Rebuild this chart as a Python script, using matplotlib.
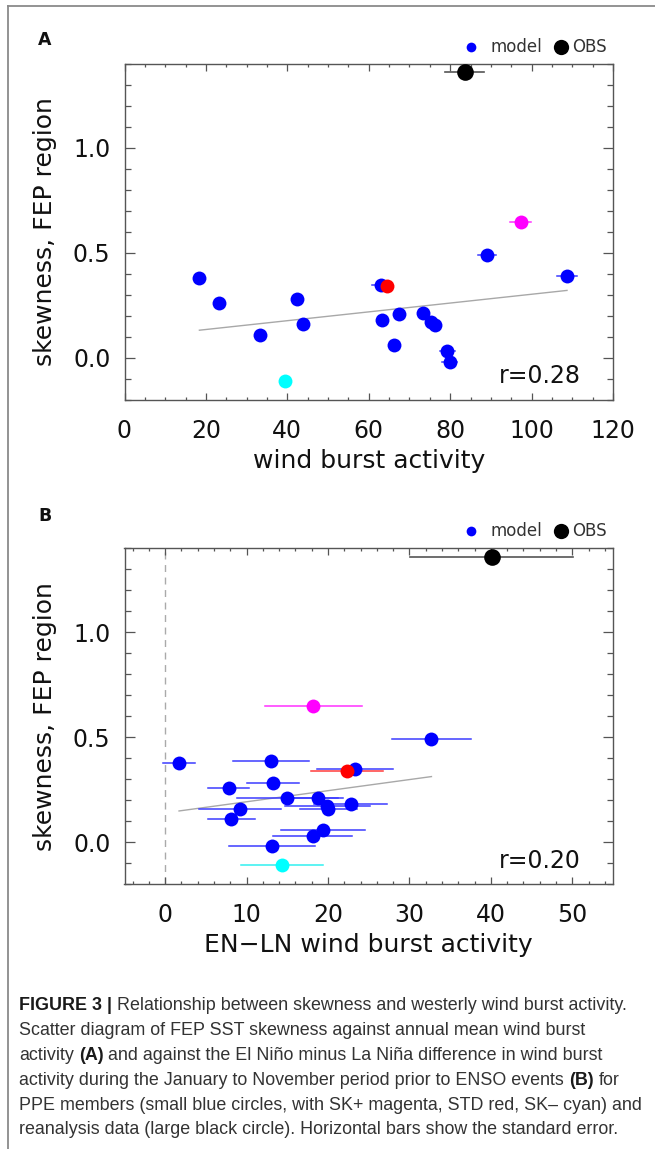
import matplotlib.pyplot as plt
import numpy as np
from matplotlib.lines import Line2D
from matplotlib.ticker import MultipleLocator

# PPE members: FEP SST skewness (shared by both panels)
skew = [0.379, 0.259, 0.110, -0.111, 0.281, 0.159, 0.349, 0.340, 0.179, 0.059,
        0.208, 0.211, 0.172, 0.157, 0.030, -0.021, 0.489, 0.649, 0.388]
member = ['PPE', 'PPE', 'PPE', 'SK-', 'PPE', 'PPE', 'PPE', 'STD', 'PPE', 'PPE',
          'PPE', 'PPE', 'PPE', 'PPE', 'PPE', 'PPE', 'PPE', 'SK+', 'PPE']

# panel A: annual mean wind burst activity
wwb_mean = [18.4, 23.1, 33.3, 39.4, 42.4, 43.8, 62.9, 64.4, 63.2, 66.1,
            67.5, 73.3, 75.4, 76.2, 79.3, 79.9, 89.1, 97.3, 108.7]
wwb_mean_se = [1.2, 1.2, 1.2, 1.2, 1.2, 1.2, 2.0, 1.2, 1.2, 1.2,
               1.2, 1.2, 1.2, 1.2, 1.8, 1.8, 2.2, 2.5, 2.5]

# panel B: El Nino minus La Nina wind burst activity
wwb_diff = [1.7, 7.8, 8.1, 14.35, 13.2, 9.2, 23.3, 22.3, 22.8, 19.4,
            15.0, 18.8, 19.9, 20.0, 18.1, 13.1, 32.7, 18.2, 13.0]
wwb_diff_se = [2.0, 2.5, 2.9, 5.0, 3.2, 5.0, 4.7, 4.4, 4.5, 5.2,
               6.2, 3.0, 5.2, 3.5, 4.8, 5.3, 4.9, 6.0, 4.7]

# reanalysis
obs_skew = 1.36
obs_mean, obs_mean_se = 83.6, 4.8
obs_diff, obs_diff_se = 40.1, 10.0

dot_col = {'PPE': '#0000ff', 'STD': '#ff0000', 'SK+': '#ff00ff', 'SK-': '#00ffff'}
bar_col = {'PPE': '#3c3cff', 'STD': '#ff3c3c', 'SK+': '#ff30ff', 'SK-': '#30f0f0'}

W, H = 655, 1149
plt.rcParams['font.family'] = ['DejaVu Sans']
fig = plt.figure(figsize=(W / 100, H / 100), dpi=100)

axA = fig.add_axes([124.5 / W, 1 - 399.7 / H, 488.5 / W, 335.7 / H])
axB = fig.add_axes([124.5 / W, 1 - 884 / H, 488.5 / W, 335.7 / H])
ax_top_gap = {'A': 24, 'B': 32}


def panel(ax, x, xerr, obs_x, obs_err, xlim, xmajor, xminor, xlabel, rtext, letter):
    y = np.array(skew)
    x = np.array(x)
    # regression line over the members
    k, b = np.polyfit(x, y, 1)
    xs = np.array([x.min(), x.max()])
    ax.plot(xs, k * xs + b, color='#a8a8a8', lw=1.0, zorder=1)

    for xi, yi, ei, m in zip(x, y, xerr, member):
        ax.plot([xi - ei, xi + ei], [yi, yi], color=bar_col[m], lw=1.1, zorder=2)
    order = [i for i, m in enumerate(member) if m == 'PPE'] + \
            [i for i, m in enumerate(member) if m != 'PPE']
    for i in order:
        ax.plot(x[i], y[i], 'o', color=dot_col[member[i]], ms=10, mec='none', zorder=3)

    ax.plot([obs_x - obs_err, obs_x + obs_err], [obs_skew, obs_skew],
            color='#555555', lw=1.2, zorder=4, clip_on=False)
    ax.plot(obs_x, obs_skew, 'o', color='black', ms=12, mec='none', zorder=5, clip_on=False)

    ax.set_xlim(*xlim)
    ax.set_ylim(-0.2, 1.4)
    ax.xaxis.set_major_locator(MultipleLocator(xmajor))
    ax.xaxis.set_minor_locator(MultipleLocator(xminor))
    ax.set_yticks([0.0, 0.5, 1.0])
    ax.set_yticklabels(['0.0', '0.5', '1.0'])
    ax.yaxis.set_minor_locator(MultipleLocator(0.1))
    ax.tick_params(which='both', direction='in', top=True, right=True,
                   color='#555555', width=0.9, labelsize=17, labelcolor='#111111')
    ax.tick_params(axis='x', which='major', length=5, pad=14)
    ax.tick_params(axis='x', which='minor', length=2.4)
    ax.tick_params(axis='y', which='major', length=7, pad=10)
    ax.tick_params(axis='y', which='minor', length=4)
    for s in ax.spines.values():
        s.set_color('#555555')
        s.set_linewidth(1.0)

    ax.text(0.5, -61 / 335.7, xlabel, transform=ax.transAxes, ha='center',
            va='center', fontsize=18, color='#111111')
    ax.text(-(124.5 - 45) / 488.5, 0.5, 'skewness, FEP region', transform=ax.transAxes,
            rotation=90, ha='center', va='center', fontsize=18, color='#111111')
    ax.text(0.934, 0.07, rtext, transform=ax.transAxes, ha='right', va='center',
            fontsize=17, color='#111111')

    # legend above the frame
    ly = 1 + 17.3 / 335.7
    ax.plot(0.7093, ly, 'o', color='#0000ff', ms=7, mec='none',
            transform=ax.transAxes, clip_on=False)
    ax.text(0.750, ly, 'model', transform=ax.transAxes, ha='left', va='center',
            fontsize=12, color='#333333')
    ax.plot(0.8936, ly, 'o', color='black', ms=11, mec='none',
            transform=ax.transAxes, clip_on=False)
    ax.text(0.916, ly, 'OBS', transform=ax.transAxes, ha='left', va='center',
            fontsize=12, color='#333333')
    ax.text(-(124.5 - 45) / 488.5, 1 + ax_top_gap[letter] / 335.7, letter,
            transform=ax.transAxes, ha='center', va='center', fontsize=12.5,
            fontweight='bold', color='#111111')


panel(axA, wwb_mean, wwb_mean_se, obs_mean, obs_mean_se, (0, 120), 20, 5,
      'wind burst activity', 'r=0.28', 'A')
panel(axB, wwb_diff, wwb_diff_se, obs_diff, obs_diff_se, (-5, 55), 10, 2,
      'EN\u2212LN wind burst activity', 'r=0.20', 'B')
axB.axvline(0, color='#aaaaaa', lw=1.0, ls=(0, (5, 4)), zorder=0)

# frame round the figure
fig.add_artist(Line2D([7.5 / W, 7.5 / W], [0, 1 - 6 / H], color='#8a8a8a', lw=1.3))
fig.add_artist(Line2D([7.5 / W, 1], [1 - 6 / H, 1 - 6 / H], color='#8a8a8a', lw=1.3))

# caption with bold pieces
caption = [
    [('FIGURE 3 |', 'bold'), ('Relationship between skewness and westerly wind burst activity.', 'normal')],
    [('Scatter diagram of FEP SST skewness against annual mean wind burst', 'normal')],
    [('activity', 'normal'), ('(A)', 'bold'),
     ('and against the El Ni\u00f1o minus La Ni\u00f1a difference in wind burst', 'normal')],
    [('activity during the January to November period prior to ENSO events', 'normal'),
     ('(B)', 'bold'), ('for', 'normal')],
    [('PPE members (small blue circles, with SK+ magenta, STD red, SK\u2013 cyan) and', 'normal')],
    [('reanalysis data (large black circle). Horizontal bars show the standard error.', 'normal')],
]
cap_font = 'Liberation Sans'
cap_size = 12.9
renderer = fig.canvas.get_renderer()
sp = fig.text(0, 0, 'a a', fontsize=cap_size, family=cap_font)
sp2 = fig.text(0, 0, 'aa', fontsize=cap_size, family=cap_font)
space_w = sp.get_window_extent(renderer).width - sp2.get_window_extent(renderer).width
sp.remove()
sp2.remove()
for j, parts in enumerate(caption):
    xpx = 19
    ypx = 1006 + j * 24.8
    for text, weight in parts:
        t = fig.text(xpx / W, 1 - ypx / H, text, fontsize=cap_size, family=cap_font,
                     weight=weight, va='center', ha='left',
                     color='#1a1a1a' if weight == 'bold' else '#333333')
        xpx += t.get_window_extent(renderer).width + space_w

fig.savefig('out.png', dpi=100)
